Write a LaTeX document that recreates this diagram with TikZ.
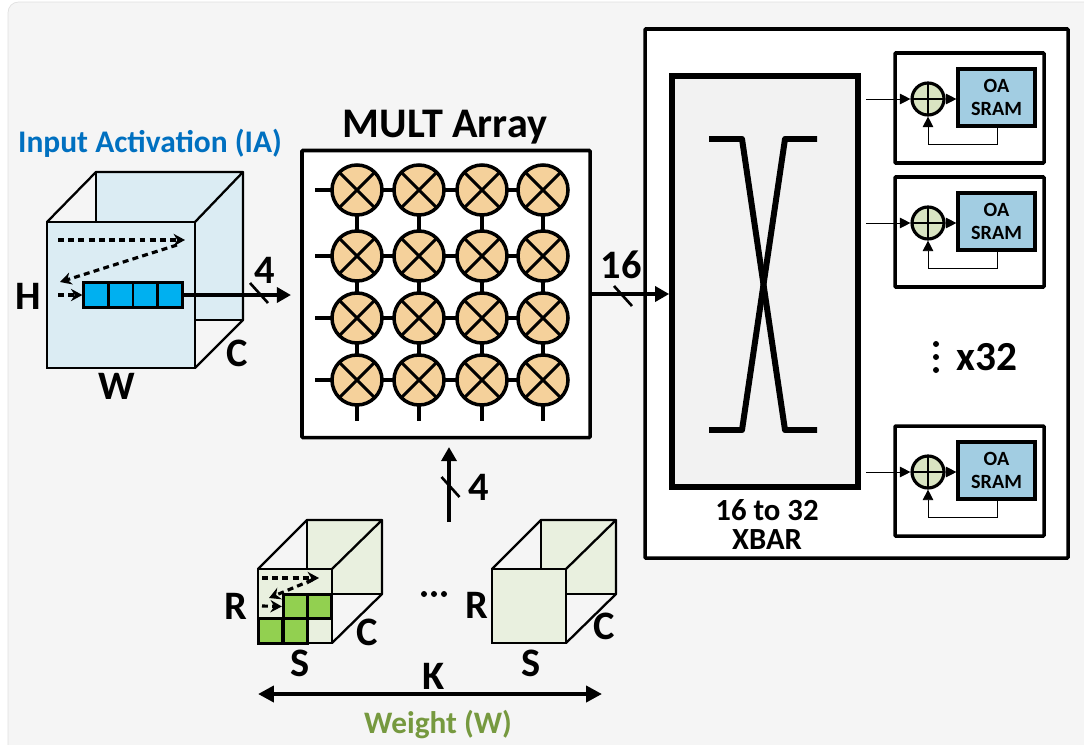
\documentclass[tikz,border=0pt]{standalone}
\usepackage{fontspec}
\setmainfont{Carlito}[BoldFont={Carlito Bold}]
\usetikzlibrary{positioning}
\usetikzlibrary{arrows.meta}
\definecolor{iaface}{HTML}{DBECF3}
\definecolor{iablue}{HTML}{00B0F0}
\definecolor{iatitle}{HTML}{0070C0}
\definecolor{wface}{HTML}{E9F0DF}
\definecolor{wgreen}{HTML}{92D050}
\definecolor{wtitle}{HTML}{76993F}
\definecolor{multfill}{HTML}{F5D19B}
\definecolor{addfill}{HTML}{D9E4C2}
\definecolor{sramfill}{HTML}{A2CDE2}
\def\px{0.02cm}
\tikzstyle{bigbox}=[draw=black,fill=white,line width=2pt,inner sep=0pt,rounded corners=0.5pt]
\tikzstyle{cell}=[draw=black,line width=1.5pt,inner sep=0pt,minimum width=24.6*\px,minimum height=24.6*\px]
\tikzstyle{mult}=[circle,draw=black,fill=multfill,line width=2pt,minimum size=50*\px,inner sep=0pt,
  path picture={\draw[line width=1.7pt] (path picture bounding box.north west) -- (path picture bounding box.south east)
  (path picture bounding box.north east) -- (path picture bounding box.south west);}]
\tikzstyle{adder}=[circle,draw=black,fill=addfill,line width=1.8pt,minimum size=32*\px,inner sep=0pt,
  path picture={\draw[line width=1.2pt] (path picture bounding box.north) -- (path picture bounding box.south)
  (path picture bounding box.east) -- (path picture bounding box.west);}]
\tikzstyle{label}=[font=\bfseries\fontsize{23}{23}\selectfont,inner sep=0pt]
\tikzstyle{bus}=[draw,line width=2.3pt,-{Triangle[length=8pt,width=8.5pt]}]
\tikzstyle{busmark}=[draw,line width=1.5pt]
\tikzstyle{wire}=[draw,line width=0.5pt,-{Triangle[length=6pt,width=6pt]}]
\tikzstyle{scan}=[draw,line width=1.8pt,dash pattern=on 3.4pt off 2.4pt,-{Stealth[length=6.5pt,width=7pt]}]
\tikzstyle{stub}=[draw,line width=2pt]
\tikzstyle{cubeline}=[draw=black,line width=1.3pt,line join=round]
\begin{document}
\begin{tikzpicture}[x=0.02cm,y=-0.02cm]
  \useasboundingbox (0,0) rectangle (1084,744);
  \fill[white] (0,0) rectangle (1084,744);
  \draw[draw=black!12,fill=black!4,rounded corners=6pt] (8,2) rectangle (1110,770);

  % Input activation cube
  \fill[iaface] (96,172) -- (243,172) -- (243,320) -- (195,320) -- (195,222) -- (96,222) -- cycle;
  \draw[cubeline] (47,222) -- (96,172) -- (243,172) -- (195,222);
  \draw[cubeline] (96,172) -- (96,222);
  \draw[cubeline] (243,172) -- (243,320) -- (195,368);
  \draw[cubeline] (195,320) -- (243,320);
  \node[draw=black,fill=iaface,line width=1.3pt,inner sep=0pt,minimum width=148*\px,minimum height=146*\px] (iafront) at (121,295) {};
  \foreach \pos/\name in {{(96,295)/s1},{(120.7,295)/s2},{(145.4,295)/s3},{(170,295)/s4}}
      \node[cell,fill=iablue] (\name) at \pos {};
  \coordinate (iastart) at (58,240);
  \coordinate (iaturn) at (185,240);
  \coordinate (iaback) at (177,245);
  \coordinate (iaend) at (60,282);
  \coordinate (ianext) at (58,295);
  \draw[scan] (iastart) -- (iaturn);
  \draw[scan] (iaback) -- (iaend);
  \draw[scan] (ianext) -- (s1.west);

  \node[font=\bfseries\fontsize{17.9}{18}\selectfont,text=iatitle,inner sep=0pt] (iatitle) at (150,143) {Input Activation (IA)};
  \node[label] (H) at (28,296) {H};
  \node[label] (W) at (117,386) {W};
  \node[label] (Ciab) at (237,353) {C};
  \node[label] (four) at (265,270) {4};

  % Multiplier array
  \node[bigbox,minimum width=288*\px,minimum height=287*\px] (multbox) at (446,294) {};
  \node[font=\bfseries\fontsize{24}{24}\selectfont,inner sep=0pt] (multtitle) at (445,127) {MULT Array};
  \foreach \c/\x in {1/357,2/419,3/482,4/543}
    \foreach \r/\y in {1/190,2/256,3/318,4/380}
        \coordinate (M\r\c) at (\x,\y);
  \foreach \r in {1,2,3,4} {
    \coordinate (in\r) at (315,0 |- M\r1);
    \path[stub] (in\r) -- (M\r1);
    \foreach \a/\b in {1/2,2/3,3/4}
        \path[stub] (M\r\a) -- (M\r\b);
  }
  \foreach \c in {1,2,3,4} {
    \coordinate (out\c) at (M4\c |- 0,421);
    \path[stub] (M4\c) -- (out\c);
    \foreach \a/\b in {1/2,2/3,3/4}
        \path[stub] (M\a\c) -- (M\b\c);
  }
  % the circles go on top of the stubs
  \foreach \c/\x in {1/357,2/419,3/482,4/543}
    \foreach \r/\y in {1/190,2/256,3/318,4/380}
        \node[mult] (M\r\c) at (\x,\y) {};

  % Bus from the input cube
  \coordinate (iaout) at (291,295);
  \path[bus] (s4.east) -- (iaout);

  % Output side
  \node[bigbox,minimum width=423*\px,minimum height=529*\px] (outbox) at (856.5,293.5) {};
  \node[draw=black,fill=black!5,line width=3.2pt,inner sep=0pt,minimum width=186*\px,minimum height=411*\px] (xbar) at (765,281.5) {};
  \coordinate (xa) at (709,139);
  \coordinate (xb) at (742,139);
  \coordinate (xc) at (785,430);
  \coordinate (xd) at (817,430);
  \coordinate (xe) at (817,139);
  \coordinate (xf) at (785,139);
  \coordinate (xg) at (742,430);
  \coordinate (xh) at (709,430);
  \draw[line width=3.4pt,line join=round] (xa) -- (xb) -- (xc) -- (xd);
  \draw[line width=3.4pt,line join=round] (xe) -- (xf) -- (xg) -- (xh);
  \node[font=\bfseries\fontsize{17.5}{16.5}\selectfont,align=center,inner sep=0pt] (xbarlabel) at (767,524) {16 to 32\\XBAR};
  \path[bus] (multbox.east) -- (multbox.east -| xbar.west);
  \node[label] (sixteen) at (621,265) {16};

  % bus widths
  \foreach \x/\y in {259/293,623/296,450.5/487}
      \draw[busmark] (\x-9,\y-10) -- (\x+9,\y+10);

  % OA units
  \foreach \dy/\i in {0/1,124/2,373/3} {
      \node[bigbox,minimum width=149*\px,minimum height=110*\px] (oa\i) at (969.5,108+\dy) {};
      \node[draw=black,fill=sramfill,line width=1.8pt,inner sep=0pt,minimum width=77*\px,minimum height=57*\px,
            font=\bfseries\fontsize{11.5}{13.5}\selectfont,align=center] (sram\i) at (996.5,97.5+\dy) {OA\\SRAM};
      \node[adder] (add\i) at (928,99+\dy) {};
      \coordinate (oain\i) at (866,99+\dy);
      \coordinate (loopa\i) at (997,144+\dy);
      \coordinate (loopb\i) at (928,144+\dy);
      \path[wire] (oain\i) -- (add\i);
      \path[wire] (add\i) -- (add\i -| sram\i.west);
      \draw[line width=0.5pt] (sram\i.south -| loopa\i) -- (loopa\i) -- (loopb\i);
      \path[wire] (loopb\i) -- (add\i);
  }
  \foreach \pos/\name in {{(936,344)/va},{(936,357)/vb},{(936,370)/vc}}
      \fill[black] \pos circle (3);
  \node[font=\bfseries\fontsize{23.5}{24}\selectfont,inner sep=0pt] (xcount) at (987,357) {x32};

  % Weight cubes
  \foreach \dx/\n in {0/a,234/b} {
      \fill[wface] (307+\dx,520) -- (382+\dx,520) -- (382+\dx,594) -- (332+\dx,594) -- (332+\dx,569) -- (307+\dx,569) -- cycle;
      \draw[cubeline] (258+\dx,569) -- (307+\dx,520) -- (382+\dx,520) -- (332+\dx,569);
      \draw[cubeline] (307+\dx,520) -- (307+\dx,569);
      \draw[cubeline] (382+\dx,520) -- (382+\dx,594) -- (332+\dx,643);
      \draw[cubeline] (332+\dx,594) -- (382+\dx,594);
      \node[draw=black,fill=wface,line width=1.3pt,inner sep=0pt,minimum width=74*\px,minimum height=74*\px] (front\n) at (295+\dx,606) {};
  }
  \foreach \pos/\name in {{(295.5,606.5)/g1},{(319.5,606.5)/g2},{(270.5,631)/g3},{(295.5,631)/g4}}
      \node[cell,fill=wgreen] (\name) at \pos {};
  \coordinate (wstart) at (262,578);
  \coordinate (wturn) at (319,578);
  \coordinate (wback) at (312,580);
  \coordinate (wend) at (269,598);
  \coordinate (wnext) at (262,606);
  \draw[scan] (wstart) -- (wturn);
  \draw[scan] (wback) -- (wend);
  \draw[scan] (wnext) -- (g1.west);

  \coordinate (wout) at (449,522);
  \coordinate (win) at (449,447);
  \path[bus] (wout) -- (win);
  \node[label] (fourw) at (479,487) {4};

  \node[label] (R1) at (236,606) {R};
  \node[label] (C1) at (367,632) {C};
  \node[label] (S1) at (300,663) {S};
  \node[label] (R2) at (477,605) {R};
  \node[label] (C2) at (604,626) {C};
  \node[label] (S2) at (531,663) {S};
  \foreach \pos/\name in {{(424,594)/da},{(434,594)/db},{(444,594)/dc}}
      \fill[black] \pos circle (3);
  \node[label] (K) at (434,676) {K};
  \coordinate (kleft) at (258,694);
  \coordinate (kright) at (602,694);
  \draw[line width=2.3pt,{Triangle[length=9pt,width=9pt]}-{Triangle[length=9pt,width=9pt]}] (kleft) -- (kright);
  \node[font=\bfseries\fontsize{17.8}{18}\selectfont,text=wtitle,inner sep=0pt] (wtitle) at (438,725) {Weight (W)};
\end{tikzpicture}
\end{document}
